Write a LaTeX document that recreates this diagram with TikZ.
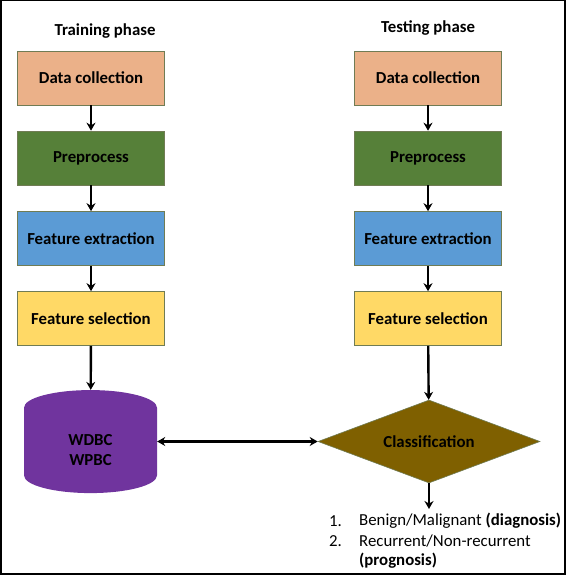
\documentclass[tikz,border=0pt]{standalone}
\usepackage{fontspec}
\setmainfont{Carlito}
\usetikzlibrary{arrows.meta,shapes.geometric}
\definecolor{boxline}{RGB}{112,124,84}
\definecolor{collectfill}{RGB}{235,177,137}
\definecolor{prepfill}{RGB}{86,128,57}
\definecolor{extractfill}{RGB}{91,155,213}
\definecolor{selectfill}{RGB}{255,217,102}
\definecolor{dbfill}{RGB}{112,52,158}
\definecolor{classfill}{RGB}{127,96,0}
\tikzset{
	stagebox/.style={draw=boxline,line width=0.6pt,minimum width=147pt,minimum height=54pt,inner sep=0pt,font=\fontsize{16.8}{19}\selectfont\bfseries},
	flowarrow/.style={line width=2.4pt,-{Stealth[length=8pt,width=9pt]}},
	phasetitle/.style={font=\fontsize{16.8}{19}\selectfont\bfseries},
	listtext/.style={anchor=west,inner sep=0pt,font=\fontsize{16.8}{19}\selectfont}
}
\begin{document}
\begin{tikzpicture}[x=1pt,y=-1pt]
	\useasboundingbox (0,0) rectangle (566,575);
	\draw[line width=1.5pt] (0.75,0.75) rectangle (564.75,573.75);
	\node[phasetitle] (traintitle) at (105,31) {Training phase};
	\node[phasetitle] (testtitle) at (428,28) {Testing phase};
	\node[stagebox,fill=collectfill] (traincollect) at (91,78) {Data collection};
	\node[stagebox,fill=prepfill] (trainprep) at (91,158) {Preprocess};
	\node[stagebox,fill=extractfill] (trainextract) at (91,238.5) {Feature extraction};
	\node[stagebox,fill=selectfill] (trainselect) at (91,318.5) {Feature selection};
	\node[stagebox,fill=collectfill] (testcollect) at (428,78) {Data collection};
	\node[stagebox,fill=prepfill] (testprep) at (428,158) {Preprocess};
	\node[stagebox,fill=extractfill] (testextract) at (428,238.5) {Feature extraction};
	\node[stagebox,fill=selectfill] (testselect) at (428,318.5) {Feature selection};
	\node[cylinder,shape border rotate=90,aspect=0.8,fill=dbfill,minimum width=133pt,minimum height=103pt,inner sep=0pt,align=center,font=\fontsize{16.8}{20}\selectfont\bfseries] (dataset) at (90.5,450.5) {WDBC\\WPBC};
	\node[diamond,draw=boxline,line width=0.6pt,fill=classfill,minimum width=222pt,minimum height=83pt,inner sep=0pt,aspect=2.67,font=\fontsize{16.8}{19}\selectfont\bfseries] (classify) at (429,441.5) {Classification};
	\coordinate (result) at (429,509);
	\draw[flowarrow] (traincollect) -- (trainprep);
	\draw[flowarrow] (trainprep) -- (trainextract);
	\draw[flowarrow] (trainextract) -- (trainselect);
	\draw[flowarrow] (trainselect) -- (dataset);
	\draw[flowarrow] (testcollect) -- (testprep);
	\draw[flowarrow] (testprep) -- (testextract);
	\draw[flowarrow] (testextract) -- (testselect);
	\draw[flowarrow] (testselect) -- (classify);
	\draw[flowarrow,{Stealth[length=8pt,width=9pt]}-{Stealth[length=8pt,width=9pt]}] (classify.west -| dataset.east) -- (classify.west);
	\draw[flowarrow] (classify) -- (result);
	\node[listtext] (numone) at (329,521) {1.};
	\node[listtext] (itemone) at (359,521) {Benign/Malignant \textbf{(diagnosis)}};
	\node[listtext] (numtwo) at (329,541) {2.};
	\node[listtext] (itemtwo) at (359,541) {Recurrent/Non-recurrent};
	\node[listtext] (itemtwob) at (359,561) {\textbf{(prognosis)}};
\end{tikzpicture}
\end{document}
